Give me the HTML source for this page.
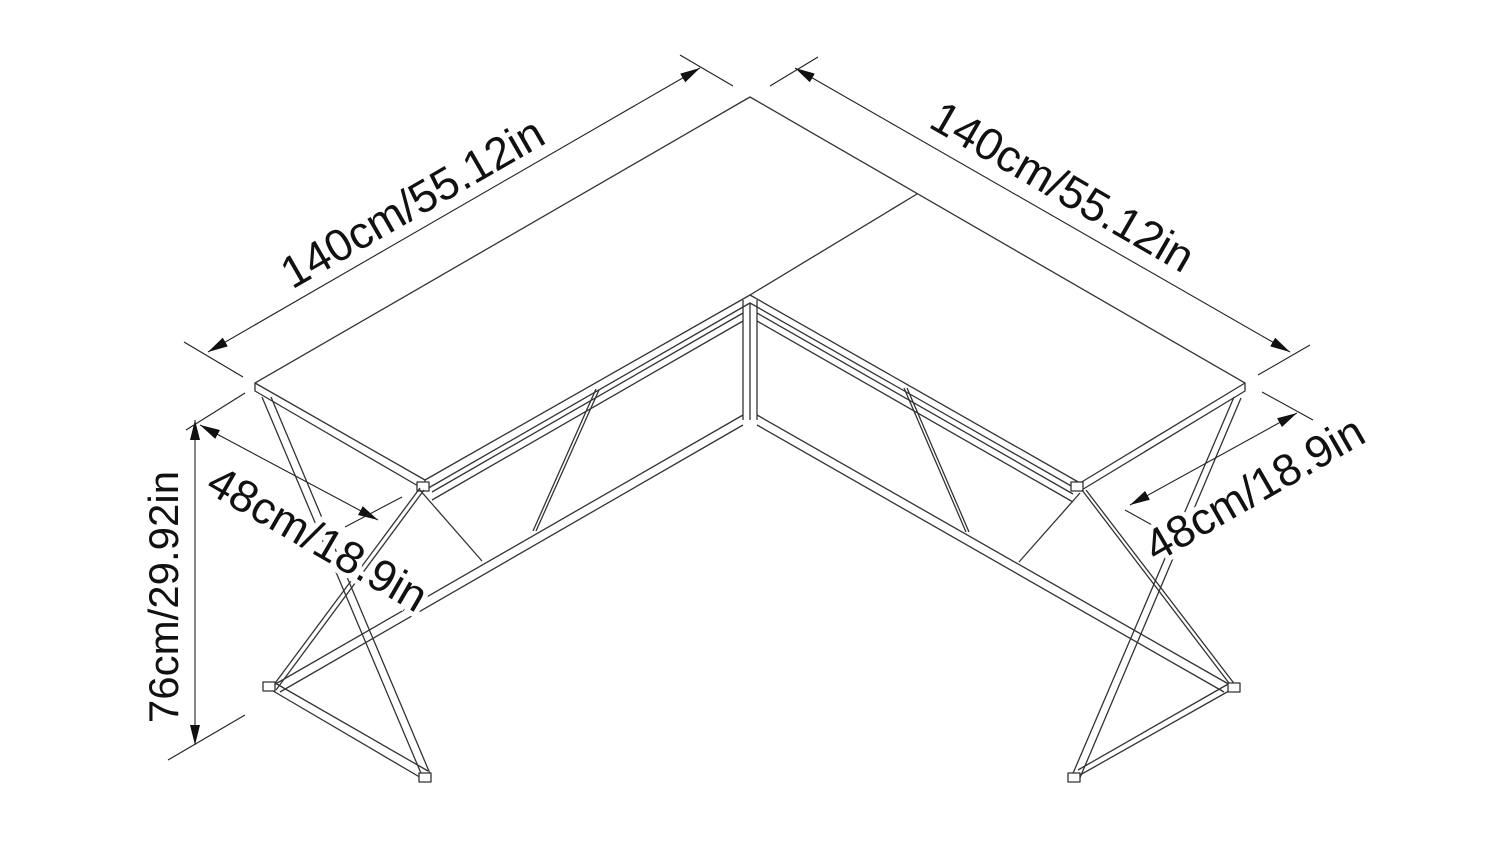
<!DOCTYPE html>
<html><head><meta charset="utf-8"><style>
html,body{margin:0;padding:0;background:#fff;}
svg{display:block}
text{font-family:"Liberation Sans",Arial,sans-serif;fill:#111;}
</style></head><body>
<svg width="1500" height="844" viewBox="0 0 1500 844" xmlns="http://www.w3.org/2000/svg">
<defs>
<marker id="a" viewBox="0 0 20 10" refX="20" refY="5" markerWidth="20" markerHeight="10" markerUnits="userSpaceOnUse" orient="auto-start-reverse">
<path d="M0,0 L20,5 L0,10 z" fill="#111"/></marker>
</defs>
<g stroke="#333" stroke-width="1.3" fill="none" stroke-linejoin="round">
<!-- tabletop -->
<path d="M750,97 L255,383 L425,480 L750,295 L1080,483 L1245,383 Z" fill="#fff"/>
<path d="M917,194 L750,295"/>
<path d="M255,383 L255,391 L425,490 L425,480"/>
<path d="M425,490 L750,303 L1080,491 L1080,483"/>
<path d="M1245,383 L1245,391 L1080,491"/>
<!-- brackets -->
<rect x="417" y="482" width="12" height="9" fill="#fff"/>
<rect x="1071" y="482" width="12" height="9" fill="#fff"/>
<!-- corner post -->
<path d="M743,300 L743,420 M750,303 L750,420 M757,300 L757,420"/>
<!-- upper apron rails -->
<path d="M432,492 L743,313 M432,500 L743,321"/>
<path d="M757,313 L1073,494 M757,321 L1073,502"/>
<!-- lower rails -->
<path d="M743,415 L272,686 M743,425 L280,692"/>
<path d="M757,415 L1232,686 M757,425 L1224,692"/>
<!-- left leg -->
<path d="M262,397 L423,778 M271,397 L431,776"/>
<path d="M268,688 L423,779 M275,683 L428,771"/>
<path d="M270,690 L420,488 M276,690 L424,490"/>
<path d="M419,489 L482,561"/>
<path d="M596,389 L533,531 M599,390 L536,531"/>
<rect x="263" y="682" width="12" height="9" fill="#fff"/>
<rect x="419" y="773" width="12" height="9" fill="#fff"/>
<!-- right leg -->
<path d="M1234,397 L1071,778 M1241,398 L1079,780"/>
<path d="M1236,687 L1073,779 M1230,683 L1078,770"/>
<path d="M1082,490 L1232,687 M1086,490 L1236,686"/>
<path d="M1080,493 L1019,562"/>
<path d="M904,388 L966,532 M907,388 L969,532"/>
<rect x="1228" y="683" width="12" height="9" fill="#fff"/>
<rect x="1068" y="773" width="12" height="9" fill="#fff"/>
</g>
<!-- dimension lines -->
<g stroke="#222" stroke-width="1.1" fill="none">
<line x1="208" y1="352" x2="700" y2="68" marker-start="url(#a)" marker-end="url(#a)"/>
<path d="M184,342 L243,377 M680,55 L733,86"/>
<line x1="795" y1="68" x2="1290" y2="352" marker-start="url(#a)" marker-end="url(#a)"/>
<path d="M770,86 L818,57 M1258,375 L1310,345"/>
<line x1="195" y1="420" x2="195" y2="745" marker-start="url(#a)" marker-end="url(#a)"/>
<path d="M186,430 L245,393 M168,760 L245,715"/>
<line x1="200" y1="425" x2="378" y2="520" marker-start="url(#a)" marker-end="url(#a)"/>
<path d="M345,527 L402,497"/>
<line x1="1130" y1="505" x2="1297" y2="413" marker-start="url(#a)" marker-end="url(#a)"/>
<path d="M1262,392 L1313,420 M1125,510 L1152,525"/>
</g>
<!-- labels (white halo to break lines) -->
<g font-size="45" text-anchor="middle" stroke="#fff" stroke-width="10" paint-order="stroke">
<text transform="translate(420,216) rotate(-30)" style="fill:#111">140cm/55.12in</text>
<text transform="translate(1055,200) rotate(30)" style="fill:#111">140cm/55.12in</text>
<text transform="translate(178,597) rotate(-90)" font-size="42" style="fill:#111">76cm/29.92in</text>
<text transform="translate(310,552) rotate(30)" style="fill:#111">48cm/18.9in</text>
<text transform="translate(1262,502) rotate(-30)" style="fill:#111">48cm/18.9in</text>
</g>
</svg>
</body></html>
